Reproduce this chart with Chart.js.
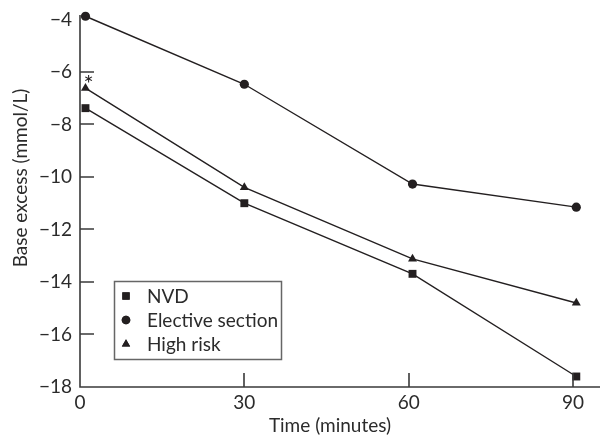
<!DOCTYPE html>
<html>
<head>
<meta charset="utf-8">
<script src="https://cdn.jsdelivr.net/npm/chart.js@4.4.0/dist/chart.umd.min.js"></script>
<style>
html, body { margin: 0; padding: 0; background: #fff; }
#wrap { width: 606px; height: 439px; position: relative; }
</style>
</head>
<body>
<div id="wrap"><canvas id="grafico"></canvas></div>
<script>
// dados
const tempos = [1, 30, 60.7, 90.6]
const nvd = [-7.38, -11.0, -13.69, -17.6]
const eletiva = [-3.88, -6.47, -10.27, -11.15]
const alto_risco = [-6.62, -10.4, -13.12, -14.8]
const nomes = ['NVD', 'Elective section', 'High risk']
const ticks_x = [0, 30, 60, 90]
const ticks_y = [-18, -16, -14, -12, -10, -8, -6, -4]
const titulo_x = 'Time (minutes)'
const titulo_y = 'Base excess (mmol/L)'

const fonte = 'Lato, "DejaVu Sans", sans-serif'
const cor = '#231f20'
const cor_texto = '#2b2b2b'

function pontos(valores){
    return valores.map((v, i) => ({x: tempos[i], y: v}))
}

function menos(v){
    return String(v).replace('-', '\u2212')
}

// eixos, ticks para dentro, titulos, asterisco e legenda
const extras = {
    id: 'extras',
    afterDraw(chart){
        const c = chart.ctx
        const sx = chart.scales.x
        const sy = chart.scales.y
        const x0 = Math.round(sx.getPixelForValue(0))
        const y0 = Math.round(sy.getPixelForValue(-18))
        const topo = Math.round(sy.getPixelForValue(-4)) - 4
        const fim = Math.round(sx.getPixelForValue(sx.max))
        c.save()
        c.strokeStyle = '#3a3a3a'
        c.lineWidth = 1.6
        c.beginPath()
        c.moveTo(x0, topo)
        c.lineTo(x0, y0)
        c.lineTo(fim, y0)
        for (const v of ticks_y) {
            if (v === -18 || v === -4) continue
            const y = Math.round(sy.getPixelForValue(v))
            c.moveTo(x0, y)
            c.lineTo(x0 + 14, y)
        }
        for (const v of ticks_x) {
            if (v === 0) continue
            const x = Math.round(sx.getPixelForValue(v))
            c.moveTo(x, y0)
            c.lineTo(x, y0 - 14)
        }
        c.stroke()

        // titulos dos eixos
        c.fillStyle = cor_texto
        c.font = '19px ' + fonte
        c.textAlign = 'center'
        c.textBaseline = 'middle'
        c.fillText(titulo_x, 330, 426)
        c.save()
        c.translate(21, 178)
        c.rotate(-Math.PI / 2)
        c.fillText(titulo_y, 0, 0)
        c.restore()

        // asterisco sobre o ponto de alto risco
        c.fillStyle = cor
        c.font = '24px ' + fonte
        c.fillText('*', sx.getPixelForValue(tempos[0]) + 3, sy.getPixelForValue(alto_risco[0]) - 4)

        // legenda
        const bx = 114, by = 281, bw = 167, bh = 78
        c.strokeStyle = '#666'
        c.lineWidth = 1.5
        c.strokeRect(bx + 0.5, by + 0.5, bw, bh)
        const estilos = ['rect', 'circle', 'triangle']
        const raios = [5.2, 4.3, 4.8]
        c.font = '19px ' + fonte
        c.textAlign = 'left'
        nomes.forEach((n, i) => {
            const y = by + 15 + i * 24
            c.fillStyle = cor
            Chart.helpers.drawPoint(c, {pointStyle: estilos[i], radius: raios[i], rotation: 0, borderWidth: 0}, bx + 12, y)
            c.fill()
            c.fillStyle = cor_texto
            c.fillText(n, bx + 33, y + 1)
        })
        c.restore()
    }
}

const series = [
    {label: nomes[0], data: pontos(nvd), pointStyle: 'rect', pointRadius: 5.6},
    {label: nomes[1], data: pontos(eletiva), pointStyle: 'circle', pointRadius: 4.6},
    {label: nomes[2], data: pontos(alto_risco), pointStyle: 'triangle', pointRadius: 5.2}
].map(s => Object.assign(s, {
    showLine: true,
    borderColor: cor,
    backgroundColor: cor,
    pointBackgroundColor: cor,
    pointBorderColor: cor,
    pointBorderWidth: 0,
    borderWidth: 1.4,
    tension: 0,
    clip: false
}))

const ctx = document.getElementById('grafico').getContext('2d')
const grafico = new Chart(ctx, {
    type: 'scatter',
    data: {datasets: series},
    plugins: [extras],
    options: {
        responsive: true,
        maintainAspectRatio: false,
        animation: false,
        layout: {padding: {top: 19, right: 2, left: 0, bottom: 0}},
        plugins: {legend: {display: false}, tooltip: {enabled: false}},
        scales: {
            x: {
                type: 'linear',
                min: 0,
                max: 95,
                afterBuildTicks: s => { s.ticks = ticks_x.map(v => ({value: v})) },
                afterFit: s => { s.height = 52 },
                grid: {display: false, drawTicks: false},
                border: {display: false},
                ticks: {padding: 4, color: cor_texto, font: {family: fonte, size: 19}}
            },
            y: {
                type: 'linear',
                min: -18,
                max: -4,
                afterBuildTicks: s => { s.ticks = ticks_y.map(v => ({value: v})) },
                afterFit: s => { s.width = 80 },
                grid: {display: false, drawTicks: false},
                border: {display: false},
                ticks: {padding: 8, color: cor_texto, font: {family: fonte, size: 19}, callback: v => menos(v)}
            }
        }
    }
})
</script>
</body>
</html>
